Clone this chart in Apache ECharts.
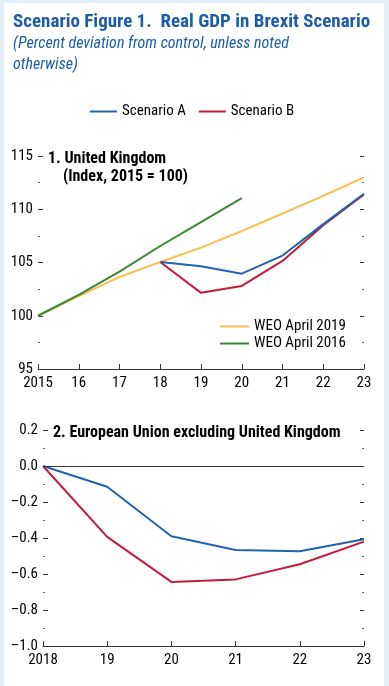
<!DOCTYPE html>
<html>
<head>
<meta charset="utf-8">
<script src="https://cdn.jsdelivr.net/npm/echarts@6/dist/echarts.min.js"></script>
<style>
html,body{margin:0;padding:0;background:#e4eef8;width:389px;height:686px;overflow:hidden;}
#panel{position:absolute;left:4px;top:3px;width:380px;height:683px;background:#fff;}
#chart{position:absolute;left:0;top:0;width:389px;height:686px;}
</style>
</head>
<body>
<div id="panel"></div>
<div id="chart"></div>
<script>
// ---- data ----
var ukYears = ['2015','16','17','18','19','20','21','22','23'];
var weo2019 = [100, 101.85, 103.65, 105.05, 106.4, 107.95, 109.6, 111.25, 113.0];
var weo2016 = [100, 101.95, 104.15, 106.55, 108.8, 111.05, null, null, null];
var ukScenarioA = [null, null, null, 105.05, 104.65, 103.95, 105.65, 108.6, 111.45];
var ukScenarioB = [null, null, null, 105.05, 102.15, 102.8, 105.15, 108.5, 111.4];

var euYears = ['2018','19','20','21','22','23'];
var euScenarioA = [0, -0.115, -0.39, -0.467, -0.474, -0.407];
var euScenarioB = [0, -0.394, -0.644, -0.63, -0.546, -0.42];

var ukTicks = {min: 95, max: 115, interval: 5};
var euTicks = {min: -1.0, max: 0.2, interval: 0.2};

// ---- styles ----
var FONT = '"Roboto Condensed","Open Sans Condensed",Roboto,sans-serif';
var BLUE = '#1e64ae', RED = '#c41a3b', ORANGE = '#fbbd4f', GREEN = '#3a8734', TITLE = '#1d5da8';
var AXIS = '#333';

function leftY(grid, t, fmt) {
  return {
    type: 'value', gridIndex: grid, min: t.min, max: t.max, interval: t.interval,
    axisLine: {show: false},
    axisTick: {show: true, inside: true, length: 5, lineStyle: {color: AXIS, width: 1}},
    minorTick: {show: true, splitNumber: 2, length: 2, lineStyle: {color: '#666', width: 1}},
    splitLine: {show: false},
    axisLabel: {color: '#000', fontFamily: FONT, fontSize: 15, margin: 5, formatter: fmt}
  };
}
function rightY(grid, t) {
  return {
    type: 'value', gridIndex: grid, position: 'right', min: t.min, max: t.max, interval: t.interval,
    axisLine: {show: false},
    axisTick: {show: true, inside: true, length: 4, lineStyle: {color: AXIS, width: 1}},
    minorTick: {show: true, splitNumber: 2, length: 2, lineStyle: {color: '#666', width: 1}},
    splitLine: {show: false},
    axisLabel: {show: false}
  };
}
function xCat(grid, cats) {
  return {
    type: 'category', gridIndex: grid, data: cats, boundaryGap: false,
    axisLine: {show: true, onZero: false, lineStyle: {color: AXIS, width: 1}},
    axisTick: {show: true, inside: true, length: 5, lineStyle: {color: AXIS, width: 1}},
    axisLabel: {color: '#000', fontFamily: FONT, fontSize: 15, margin: 7, interval: 0},
    splitLine: {show: false}
  };
}
function line(name, data, color, xi, yi, extra) {
  var s = {
    name: name, type: 'line', data: data, xAxisIndex: xi, yAxisIndex: yi,
    symbol: 'none', connectNulls: false, smooth: false,
    lineStyle: {color: color, width: 2}, itemStyle: {color: color},
    emphasis: {disabled: true}, animation: false
  };
  if (extra) for (var k in extra) s[k] = extra[k];
  return s;
}
var dashFmt = function (v) { return (v < 0 ? '\u2013' : '') + Math.abs(v).toFixed(1); };

var option = {
  animation: false,
  backgroundColor: 'transparent',
  title: [
    {text: 'Scenario Figure 1.  Real GDP in Brexit Scenario', left: 8, top: 8,
     textStyle: {color: TITLE, fontFamily: FONT, fontWeight: 'bold', fontSize: 19}},
    {text: '(Percent deviation from control, unless noted\notherwise)', left: 8, top: 28,
     textStyle: {color: TITLE, fontFamily: FONT, fontStyle: 'italic', fontWeight: 'normal', fontSize: 16, lineHeight: 21}},
    {text: '1. United Kingdom', left: 43, top: 146,
     textStyle: {color: '#000', fontFamily: FONT, fontWeight: 'bold', fontSize: 16}},
    {text: '(Index, 2015 = 100)', left: 58, top: 164,
     textStyle: {color: '#000', fontFamily: FONT, fontWeight: 'bold', fontSize: 16}},
    {text: '2. European Union excluding United Kingdom', left: 48, top: 420,
     textStyle: {color: '#000', fontFamily: FONT, fontWeight: 'bold', fontSize: 16}}
  ],
  legend: [
    {data: ['Scenario A', 'Scenario B'], left: 85, top: 99, itemWidth: 27, itemHeight: 2, itemGap: 13,
     icon: 'rect', textStyle: {color: '#000', fontFamily: FONT, fontSize: 15}, selectedMode: false},
    {data: ['WEO April 2019', 'WEO April 2016'], orient: 'vertical', left: 215, top: 314,
     itemWidth: 29, itemHeight: 2, itemGap: 2, icon: 'rect',
     textStyle: {color: '#000', fontFamily: FONT, fontSize: 15}, selectedMode: false}
  ],
  grid: [
    {left: 38, right: 25, top: 156, height: 213, containLabel: false},
    {left: 43, right: 25, top: 430, height: 216, containLabel: false}
  ],
  xAxis: [xCat(0, ukYears), xCat(1, euYears)],
  yAxis: [
    leftY(0, ukTicks, function (v) { return String(v); }),
    rightY(0, ukTicks),
    leftY(1, euTicks, dashFmt),
    rightY(1, euTicks)
  ],
  series: [
    line('WEO April 2019', weo2019, ORANGE, 0, 0),
    line('WEO April 2016', weo2016, GREEN, 0, 0),
    line('Scenario B', ukScenarioB, RED, 0, 0),
    line('Scenario A', ukScenarioA, BLUE, 0, 0),
    line('Scenario B', euScenarioB, RED, 1, 2, {
      markLine: {silent: true, symbol: 'none', label: {show: false},
        lineStyle: {color: AXIS, width: 1, type: 'solid'}, data: [{yAxis: 0}], animation: false}
    }),
    line('Scenario A', euScenarioA, BLUE, 1, 2)
  ]
};

var chart = echarts.init(document.getElementById('chart'), null, {renderer: 'canvas'});
chart.setOption(option);
</script>
</body>
</html>
